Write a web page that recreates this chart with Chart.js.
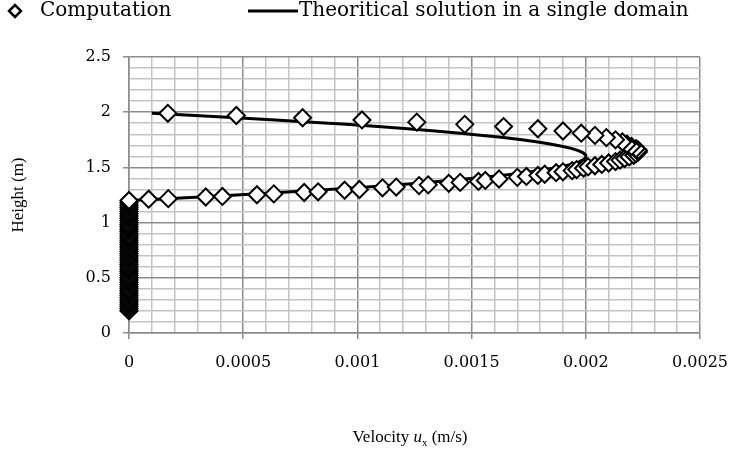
<!DOCTYPE html>
<html>
<head>
<meta charset="utf-8">
<script src="https://cdn.jsdelivr.net/npm/chart.js@4"></script>
<style>
  html, body { margin: 0; padding: 0; background: #fff; }
  #wrap { width: 742px; height: 454px; }
</style>
</head>
<body>
<div id="wrap"><canvas id="chart" width="742" height="454"></canvas></div>
<script>
// computed velocity profile (x = u_x in m/s, y = height in m)
// first the stack of zero-velocity cells, then the lower branch, then the upper branch
const compX = [
  0, 0, 0, 0, 0, 0, 0, 0, 0, 0,
  0, 0, 0, 0, 0, 0, 0, 0, 0, 0,
  0, 0, 0, 0, 0, 0, 0, 0, 0, 0,
  0, 0, 0, 0, 0, 0, 0, 0, 0, 0,
  0, 0, 0, 0, 0, 0, 0, 0, 0, 0,
  0, 0.000086, 0.000172, 0.000336, 0.000409, 0.00056, 0.000634, 0.000767, 0.000828, 0.000944,
  0.001009, 0.00111, 0.00117, 0.00127, 0.00131, 0.0014, 0.00145, 0.00153, 0.00156, 0.00162,
  0.0017, 0.00174, 0.00179, 0.00182, 0.00187, 0.0019, 0.00194, 0.00196, 0.00199, 0.00201,
  0.00204, 0.00207, 0.0021, 0.00213, 0.00215, 0.00217, 0.00219, 0.00221, 0.00222, 0.00223,
  0.00223,
  0.00222, 0.0022, 0.00218, 0.00216, 0.00213, 0.00209, 0.00204, 0.00198, 0.0019, 0.00179,
  0.00164, 0.00147, 0.00126, 0.00102, 0.00076, 0.00047, 0.00017
];
const compY = [
  0.20, 0.22, 0.24, 0.26, 0.28, 0.30, 0.32, 0.34, 0.36, 0.38,
  0.40, 0.42, 0.44, 0.46, 0.48, 0.50, 0.52, 0.54, 0.56, 0.58,
  0.60, 0.62, 0.64, 0.66, 0.68, 0.70, 0.72, 0.74, 0.76, 0.78,
  0.80, 0.82, 0.84, 0.86, 0.88, 0.90, 0.92, 0.94, 0.96, 0.98,
  1.00, 1.02, 1.04, 1.06, 1.08, 1.10, 1.12, 1.14, 1.16, 1.18,
  1.20, 1.212, 1.217, 1.232, 1.237, 1.252, 1.26, 1.273, 1.279, 1.293,
  1.30, 1.315, 1.322, 1.335, 1.342, 1.356, 1.364, 1.373, 1.382, 1.395,
  1.41, 1.418, 1.427, 1.438, 1.452, 1.46, 1.471, 1.48, 1.493, 1.505,
  1.515, 1.527, 1.54, 1.553, 1.566, 1.58, 1.595, 1.61, 1.625, 1.64,
  1.655,
  1.67, 1.69, 1.71, 1.73, 1.75, 1.77, 1.79, 1.81, 1.83, 1.85,
  1.87, 1.89, 1.91, 1.93, 1.95, 1.97, 1.99
];

// theoretical solution in a single domain
const theoryX = [
  0.0001, 0.00029, 0.00047, 0.00064, 0.0008, 0.00095, 0.00109, 0.00122, 0.00134, 0.00145,
  0.00155, 0.00164, 0.00172, 0.00179, 0.00185, 0.0019, 0.00194, 0.00197, 0.00199, 0.002,
  0.002, 0.00199, 0.00197, 0.00194, 0.0019, 0.00185, 0.00179, 0.00172, 0.00164, 0.00155,
  0.00145, 0.00134, 0.00122, 0.00109, 0.00095, 0.0008, 0.00064, 0.00047, 0.00029, 0.0001,
  0
];
const theoryY = [
  1.99, 1.97, 1.95, 1.93, 1.91, 1.89, 1.87, 1.85, 1.83, 1.81,
  1.79, 1.77, 1.75, 1.73, 1.71, 1.69, 1.67, 1.65, 1.63, 1.61,
  1.59, 1.57, 1.55, 1.53, 1.51, 1.49, 1.47, 1.45, 1.43, 1.41,
  1.39, 1.37, 1.35, 1.33, 1.31, 1.29, 1.27, 1.25, 1.23, 1.21,
  1.20
];

const xTickLabels = ['0', '0.0005', '0.001', '0.0015', '0.002', '0.0025'];
const yTickLabels = ['0', '0.5', '1', '1.5', '2', '2.5'];

const seriesNames = ['Computation', 'Theoritical solution in a single domain'];

const MAJOR = '#8c8c8c';
const MINOR = '#c4c4c4';
const TICK_FONT = { family: 'DejaVu Serif', size: 16 };

// chart area box, in canvas pixels
const AREA = { left: 129, right: 711, top: 57, bottom: 333 };

const legendPlugin = {
  id: 'sketchLegend',
  afterDraw(chart) {
    const ctx = chart.ctx;
    const y = 11;
    ctx.save();
    ctx.fillStyle = '#fff';
    ctx.strokeStyle = '#000';
    ctx.lineWidth = 2.5;
    Chart.helpers.drawPoint(ctx, { pointStyle: 'rectRot', radius: 6, borderWidth: 2.5 }, 15, y);
    ctx.beginPath();
    ctx.lineWidth = 3;
    ctx.moveTo(248, y);
    ctx.lineTo(298, y);
    ctx.stroke();
    ctx.fillStyle = '#000';
    ctx.font = '20px "DejaVu Serif"';
    ctx.textBaseline = 'middle';
    ctx.textAlign = 'left';
    ctx.fillText(seriesNames[0], 40, y);
    ctx.fillText(seriesNames[1], 299, y);
    ctx.restore();
  }
};

const titlePlugin = {
  id: 'axisTitles',
  afterDraw(chart) {
    const ctx = chart.ctx;
    ctx.save();
    ctx.fillStyle = '#000';
    ctx.textBaseline = 'alphabetic';
    // x title with italic u and subscript x
    const parts = [
      { t: 'Velocity ', f: '17px "Liberation Serif"', dy: 0 },
      { t: 'u', f: 'italic 17px "Liberation Serif"', dy: 0 },
      { t: 'x', f: '11px "Liberation Serif"', dy: 4 },
      { t: ' (m/s)', f: '17px "Liberation Serif"', dy: 0 }
    ];
    let total = 0;
    parts.forEach(p => { ctx.font = p.f; total += ctx.measureText(p.t).width; });
    let x = 410 - total / 2;
    const base = 442;
    parts.forEach(p => {
      ctx.font = p.f;
      ctx.fillText(p.t, x, base + p.dy);
      x += ctx.measureText(p.t).width;
    });
    // y title
    ctx.translate(19, (AREA.top + AREA.bottom) / 2);
    ctx.rotate(-Math.PI / 2);
    ctx.font = '17px "Liberation Serif"';
    ctx.textAlign = 'center';
    ctx.textBaseline = 'middle';
    ctx.fillText('Height (m)', 0, 0);
    ctx.restore();
  }
};

const gridColor = ctx => (ctx.index % 5 === 0 ? MAJOR : MINOR);
const tickColor = ctx => (ctx.index % 5 === 0 ? MAJOR : 'rgba(0,0,0,0)');

new Chart(document.getElementById('chart'), {
  type: 'scatter',
  data: {
    datasets: [
      {
        label: seriesNames[0],
        data: compX.map((x, i) => ({ x: x, y: compY[i] })),
        pointStyle: 'rectRot',
        pointRadius: 8.5,
        pointHoverRadius: 8.5,
        pointBorderWidth: 2,
        pointBackgroundColor: '#fff',
        pointBorderColor: '#000',
        showLine: false,
        clip: false
      },
      {
        label: seriesNames[1],
        data: theoryX.map((x, i) => ({ x: x, y: theoryY[i] })),
        showLine: true,
        borderColor: '#000',
        borderWidth: 3,
        pointRadius: 0,
        tension: 0,
        clip: false
      }
    ]
  },
  options: {
    responsive: false,
    animation: false,
    devicePixelRatio: 1,
    layout: { padding: { top: AREA.top, right: 742 - AREA.right, left: 0, bottom: 0 } },
    plugins: {
      legend: { display: false },
      tooltip: { enabled: false }
    },
    scales: {
      x: {
        type: 'linear',
        min: 0,
        max: 0.0025,
        afterFit: scale => { scale.height = 454 - AREA.bottom; },
        ticks: {
          stepSize: 0.0001,
          autoSkip: false,
          maxRotation: 0,
          padding: 14,
          color: '#000',
          font: TICK_FONT,
          callback: (v, i) => (i % 5 === 0 ? xTickLabels[i / 5] : '')
        },
        grid: { color: gridColor, tickColor: tickColor, lineWidth: 1.5, tickLength: 6 },
        border: { color: MAJOR, width: 1.5 }
      },
      y: {
        type: 'linear',
        min: 0,
        max: 2.5,
        afterFit: scale => { scale.width = AREA.left; },
        ticks: {
          stepSize: 0.1,
          autoSkip: false,
          padding: 12,
          color: '#000',
          font: TICK_FONT,
          callback: (v, i) => (i % 5 === 0 ? yTickLabels[i / 5] : '')
        },
        grid: { color: gridColor, tickColor: tickColor, lineWidth: 1.5, tickLength: 6 },
        border: { color: MAJOR, width: 1.5 }
      }
    }
  },
  plugins: [legendPlugin, titlePlugin]
});
</script>
</body>
</html>
